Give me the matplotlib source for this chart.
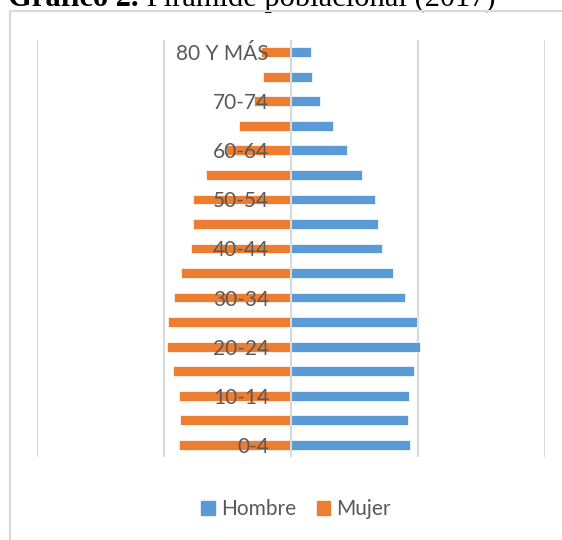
import numpy as np
import matplotlib.pyplot as plt
from matplotlib.patches import Patch
from matplotlib.lines import Line2D

edades = ["0-4", "5-9", "10-14", "15-19", "20-24", "25-29", "30-34", "35-39",
          "40-44", "45-49", "50-54", "55-59", "60-64", "65-69", "70-74",
          "75-79", "80 Y MÁS"]
hombre = [4.69, 4.61, 4.63, 4.84, 5.08, 4.96, 4.47, 4.00, 3.58, 3.43, 3.31,
          2.81, 2.19, 1.65, 1.16, 0.81, 0.79]
mujer = [4.41, 4.37, 4.41, 4.63, 4.88, 4.83, 4.61, 4.32, 3.93, 3.87, 3.85,
         3.36, 2.56, 2.05, 1.46, 1.12, 1.18]
grid_ticks = [-10, -5, 0, 5, 10]

W, H = 562, 540
fig = plt.figure(figsize=(W / 100, H / 100), dpi=100)

# chart frame (cut at right and bottom)
fig.add_artist(Line2D([10 / W, 1], [1 - 11 / H] * 2, color="#d9d9d9", lw=1.5))
fig.add_artist(Line2D([10 / W] * 2, [0, 1 - 11 / H], color="#d9d9d9", lw=1.5))

# title, half cut off at the top
t1 = fig.text(8 / W, 1 - 6 / H, "Gráfico 2.", family="Liberation Serif",
              fontweight="bold", fontsize=22, va="baseline", ha="left")

ax = fig.add_axes([37 / W, 1 - 457 / H, 508 / W, 417 / H])
y = np.arange(len(edades))
ax.barh(y, hombre, height=0.4, color="#5B9BD5", edgecolor="white", lw=0.5, zorder=2)
ax.barh(y, -np.array(mujer), height=0.4, color="#ED7D31", edgecolor="white", lw=0.5, zorder=2)
ax.axvline(0, color="#d9d9d9", lw=1.5, zorder=3)

ax.set_xlim(-10, 10)
ax.set_ylim(-0.5, len(edades) - 0.5)
ax.set_xticks(grid_ticks)
ax.set_yticks([])
ax.tick_params(length=0, labelbottom=False)
ax.grid(axis="x", color="#d9d9d9", lw=1.5, zorder=0)
ax.set_axisbelow(True)
for s in ax.spines.values():
    s.set_visible(False)

for i in range(0, len(edades), 2):
    ax.text(-0.87, i, edades[i], ha="right", va="center_baseline", color="#595959",
            fontsize=15, family="Lato", zorder=4)

ax.annotate(" Pirámide poblacional (2017)", xy=(1, 0), xycoords=t1,
            va="bottom", ha="left", family="Liberation Serif", fontsize=22,
            annotation_clip=False)

handles = [Patch(color="#5B9BD5", label="Hombre"), Patch(color="#ED7D31", label="Mujer")]
fig.legend(handles=handles, loc="center", bbox_to_anchor=(296 / W, 1 - 509 / H),
           ncol=2, frameon=False, prop={"family": "Lato", "size": 15},
           labelcolor="#595959", handlelength=0.65, handleheight=0.65,
           handletextpad=0.3, columnspacing=1.0)

fig.savefig("out.png", dpi=100)
